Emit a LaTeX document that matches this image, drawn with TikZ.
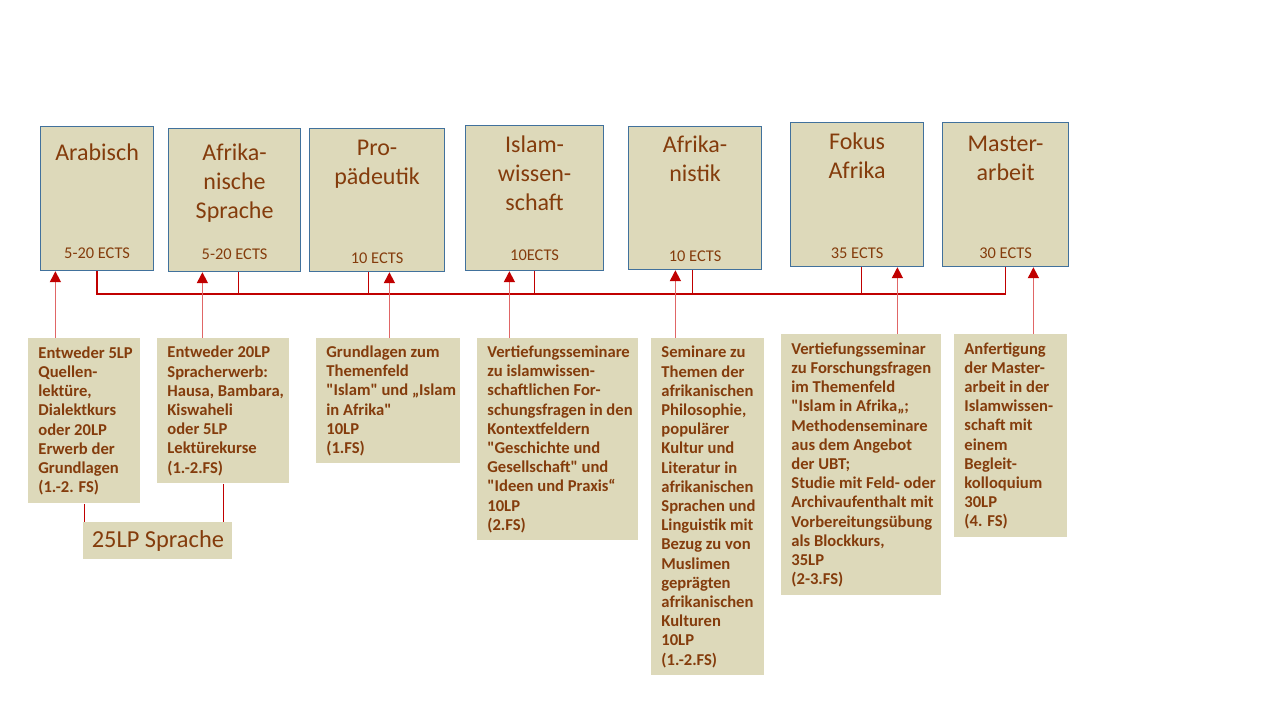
\documentclass[tikz,border=0pt]{standalone}
\usepackage{fontspec}
\setmainfont{Carlito}[Ligatures=TeXOff]
\usepackage{tikz}
\usetikzlibrary{positioning, arrows.meta}
\definecolor{mTan}{HTML}{DDD9BA}
\definecolor{mEdge}{HTML}{41719C}
\definecolor{mInk}{HTML}{843C0C}
\definecolor{mRed}{HTML}{C00000}
\definecolor{mPink}{HTML}{E06666}
\tikzset{
  modbox/.style={draw=mEdge, line width=0.6pt, fill=mTan, anchor=north west, inner sep=0pt},
  modtitle/.style={font=\fontsize{12}{14.5}\selectfont, text=mInk, align=center,
    anchor=north, inner sep=0pt},
  ectslabel/.style={font=\fontsize{8.2}{9.6}\selectfont, text=mInk, inner sep=0pt},
  infobox/.style={fill=mTan, anchor=north west, inner sep=0pt, align=flush left,
    font=\fontsize{8.3}{9.6}\selectfont\bfseries, text=mInk,
    execute at begin node={\leftskip=5pt\rightskip=-10pt plus 1fil\hyphenpenalty=10000}},
  sumbox/.style={fill=mTan, anchor=north west, inner sep=0pt,
    font=\fontsize{12.2}{14}\selectfont, text=mInk},
  busline/.style={draw=mRed, line width=0.75pt},
  feedarrow/.style={draw=mPink, line width=0.8pt, -{Triangle[width=5.5pt, length=5.5pt, color=mRed]}},
}
\begin{document}
\begin{tikzpicture}[x=0.5pt, y=-0.5pt]
        \useasboundingbox (0,0) rectangle (1280,720);
        % modules
        \node[modbox, minimum width=56.5pt, minimum height=72pt] (ara) at (40,126) {};
        \node[modbox, minimum width=66pt, minimum height=71.5pt] (afs) at (168,128) {};
        \node[modbox, minimum width=67.5pt, minimum height=71.5pt] (prp) at (309,128) {};
        \node[modbox, minimum width=69pt, minimum height=72.5pt] (isw) at (465,125) {};
        \node[modbox, minimum width=66.5pt, minimum height=71.5pt] (afn) at (628,126) {};
        \node[modbox, minimum width=66.5pt, minimum height=72pt] (fok) at (790,122) {};
        \node[modbox, minimum width=63pt, minimum height=72pt] (mst) at (942,122) {};
        \node[modtitle] at ([yshift=-8.5pt]ara.north) {Arabisch};
        \node[modtitle] at ([yshift=-7.5pt]afs.north) {Afrika-\\nische\\Sprache};
        \node[modtitle] at ([yshift=-6pt]prp.north) {Pro-\\pädeutik};
        \node[modtitle] at ([yshift=-5pt]isw.north) {Islam-\\wissen-\\schaft};
        \node[modtitle] at ([yshift=-4.5pt]afn.north) {Afrika-\\nistik};
        \node[modtitle] at ([yshift=-5pt]fok.north) {Fokus\\Afrika};
        \node[modtitle] at ([yshift=-7pt]mst.north) {Master-\\arbeit};
        \node[ectslabel] at ([yshift=9pt]ara.south) {5-20 ECTS};
        \node[ectslabel] at ([yshift=9pt]afs.south) {5-20 ECTS};
        \node[ectslabel] at ([yshift=7pt]prp.south) {10 ECTS};
        \node[ectslabel] at ([yshift=8pt]isw.south) {10ECTS};
        \node[ectslabel] at ([yshift=7pt]afn.south) {10 ECTS};
        \node[ectslabel] at ([yshift=7pt]fok.south) {35 ECTS};
        \node[ectslabel] at ([yshift=7pt]mst.south) {30 ECTS};
        % bus
        \coordinate (bus) at (0,294);
        \draw[busline] (ara.south) |- (bus -| mst.south) -- (mst.south);
        \draw[busline] ([xshift=2pt]afs.south) -- ([xshift=2pt]afs.south |- bus);
        \draw[busline] ([xshift=-4.25pt]prp.south) -- ([xshift=-4.25pt]prp.south |- bus);
        \draw[busline] (isw.south) -- (isw.south |- bus);
        \draw[busline] ([xshift=-1.25pt]afn.south) -- ([xshift=-1.25pt]afn.south |- bus);
        \draw[busline] ([xshift=2.25pt]fok.south) -- ([xshift=2.25pt]fok.south |- bus);
        % contents
        \node[infobox, text width=56pt, minimum height=82.5pt] (inf1) at (28,338)
          {Entweder 5LP\\Quellen-\\lektüre,\\Dialektkurs\\oder 20LP\\Erwerb der\\Grundlagen\\(1.-2. FS)};
        \node[infobox, text width=66pt, minimum height=72.5pt] (inf2) at (157,338)
          {Entweder 20LP\\Spracherwerb:\\Hausa, Bambara,\\Kiswaheli\\oder 5LP\\Lektürekurse\\(1.-2.FS)};
        \node[infobox, text width=72pt, minimum height=62.5pt] (inf3) at (316,338)
          {Grundlagen zum\\Themenfeld\\"Islam" und „Islam\\in Afrika"\\10LP\\(1.FS)};
        \node[infobox, text width=80.5pt, minimum height=101pt] (inf4) at (477,338)
          {Vertiefungsseminare\\zu islamwissen-\\schaftlichen For-\\schungsfragen in den\\Kontextfeldern\\"Geschichte und\\Gesellschaft" und\\"Ideen und Praxis“\\10LP\\(2.FS)};
        \node[infobox, text width=56.5pt, minimum height=168.5pt] (inf5) at (651,338)
          {Seminare zu\\Themen der\\afrikanischen\\Philosophie,\\populärer\\Kultur und\\Literatur in\\afrikanischen\\Sprachen und\\Linguistik mit\\Bezug zu von\\Muslimen\\geprägten\\afrikanischen\\Kulturen\\10LP\\(1.-2.FS)};
        \node[infobox, text width=80pt, minimum height=130.5pt] (inf6) at (781,334)
          {Vertiefungsseminar\\zu Forschungsfragen\\im Themenfeld\\"Islam in Afrika„;\\Methodenseminare\\aus dem Angebot\\der UBT;\\Studie mit Feld- oder\\Archivaufenthalt mit\\Vorbereitungsübung\\als Blockkurs,\\35LP\\(2-3.FS)};
        \node[infobox, text width=56.5pt, minimum height=101.5pt] (inf7) at (954,334)
          {Anfertigung\\der Master-\\arbeit in der\\Islamwissen-\\schaft mit\\einem\\Begleit-\\kolloquium\\30LP\\(4. FS)};
        \node[sumbox, minimum width=74.5pt, minimum height=18.5pt] (sum) at (83,522) {25LP Sprache};
        % feeds
        \draw[feedarrow] ([xshift=-14.5pt]inf1.north) -- ([xshift=-14.5pt]inf1.north |- ara.south);
        \draw[feedarrow] ([xshift=-10.5pt]inf2.north) -- ([xshift=-10.5pt]inf2.north |- afs.south);
        \draw[feedarrow] ([xshift=0.5pt]inf3.north) -- ([xshift=0.5pt]inf3.north |- prp.south);
        \draw[feedarrow] ([xshift=-24.25pt]inf4.north) -- ([xshift=-24.25pt]inf4.north |- isw.south);
        \draw[feedarrow] ([xshift=-16.25pt]inf5.north) -- ([xshift=-16.25pt]inf5.north |- afn.south);
        \draw[feedarrow] ([xshift=18pt]inf6.north) -- ([xshift=18pt]inf6.north |- fok.south);
        \draw[feedarrow] ([xshift=11.25pt]inf7.north) -- ([xshift=11.25pt]inf7.north |- mst.south);
        \draw[busline] (inf1.south) -- (inf1.south |- sum.north);
        \draw[busline] (inf2.south) -- (inf2.south |- sum.north);
      \end{tikzpicture}
\end{document}
